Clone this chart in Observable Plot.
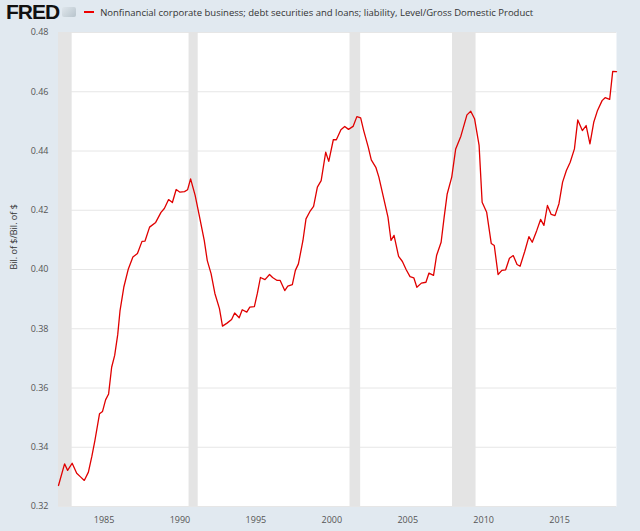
<!DOCTYPE html>
<html><head><meta charset="utf-8">
<script src="https://cdn.jsdelivr.net/npm/d3@7"></script>
<script src="https://cdn.jsdelivr.net/npm/@observablehq/plot@0.6"></script>
<style>
body{margin:0;background:#e1e9f0;font-family:"Open Sans",sans-serif;width:640px;height:531px;overflow:hidden}
#hdr{height:24px;display:flex;align-items:center;padding-left:6px}
#logo{font-family:"Liberation Sans",Arial,sans-serif;font-weight:bold;font-size:21px;letter-spacing:-1px;color:#111}
#icon{display:inline-block;width:14px;height:10px;margin-left:3px;background:linear-gradient(135deg,#dfe6ec,#b8c4cc);border-radius:2px}
#leg{display:flex;align-items:center;margin-left:8px;font-size:9.5px;color:#333}
#leg span.l{display:inline-block;width:10px;height:2px;background:#e00;margin-right:6px}
svg{display:block}
</style></head><body>
<div id="hdr"><span id="logo">FRED</span><span id="icon"></span><div id="leg"><span class="l"></span>Nonfinancial corporate business; debt securities and loans; liability, Level/Gross Domestic Product</div></div>
<div id="chart"></div>
<script>
const years = [1982.0,1982.4,1982.6,1982.9,1983.2,1983.45,1983.7,1983.97,1984.2,1984.4,1984.7,1984.9,1985.1,1985.3,1985.5,1985.7,1985.9,1986.05,1986.3,1986.6,1986.9,1987.2,1987.5,1987.7,1988.0,1988.4,1988.75,1988.97,1989.25,1989.5,1989.75,1990.0,1990.3,1990.5,1990.7,1991.0,1991.25,1991.6,1991.8,1992.05,1992.3,1992.6,1992.8,1993.1,1993.4,1993.6,1993.9,1994.1,1994.4,1994.6,1994.9,1995.1,1995.3,1995.6,1995.9,1996.1,1996.4,1996.6,1996.9,1997.1,1997.4,1997.6,1997.8,1998.1,1998.3,1998.55,1998.8,1999.05,1999.3,1999.6,1999.8,2000.1,2000.3,2000.6,2000.85,2001.1,2001.4,2001.65,2001.9,2002.1,2002.4,2002.6,2002.9,2003.1,2003.4,2003.7,2003.9,2004.1,2004.4,2004.65,2004.9,2005.15,2005.4,2005.6,2005.9,2006.2,2006.4,2006.7,2006.9,2007.2,2007.4,2007.6,2007.9,2008.16,2008.5,2008.9,2009.15,2009.4,2009.7,2009.9,2010.2,2010.5,2010.7,2010.95,2011.2,2011.45,2011.7,2011.95,2012.2,2012.4,2012.7,2012.98,2013.2,2013.5,2013.75,2013.97,2014.2,2014.45,2014.7,2014.96,2015.2,2015.45,2015.7,2015.98,2016.2,2016.5,2016.75,2017.0,2017.25,2017.5,2017.8,2018.0,2018.3,2018.5,2018.75];
const values = [0.3271,0.3344,0.3322,0.3346,0.3312,0.3300,0.3288,0.3316,0.3370,0.3423,0.3513,0.3521,0.3560,0.3580,0.3670,0.3710,0.3780,0.3860,0.3940,0.4002,0.4042,0.4054,0.4095,0.4096,0.4143,0.4159,0.4193,0.4206,0.4236,0.4226,0.4270,0.4261,0.4263,0.4269,0.4306,0.4250,0.4188,0.4098,0.4030,0.3986,0.3919,0.3868,0.3809,0.3819,0.3831,0.3853,0.3837,0.3864,0.3856,0.3873,0.3875,0.3920,0.3973,0.3966,0.3983,0.3973,0.3963,0.3963,0.3929,0.3944,0.3949,0.3997,0.4019,0.4098,0.4171,0.4195,0.4213,0.4278,0.4300,0.4396,0.4365,0.4438,0.4438,0.4472,0.4483,0.4473,0.4483,0.4516,0.4512,0.4469,0.4413,0.4370,0.4345,0.4312,0.4244,0.4177,0.4098,0.4115,0.4044,0.4027,0.3999,0.3976,0.3972,0.3940,0.3954,0.3957,0.3988,0.3980,0.4047,0.4092,0.4177,0.4255,0.4312,0.4407,0.4450,0.4522,0.4534,0.4509,0.4419,0.4227,0.4193,0.4088,0.4081,0.3983,0.3997,0.3999,0.4038,0.4047,0.4017,0.4011,0.4060,0.4111,0.4092,0.4132,0.4169,0.4149,0.4216,0.4186,0.4182,0.4222,0.4295,0.4334,0.4362,0.4407,0.4505,0.4469,0.4486,0.4424,0.4497,0.4537,0.4570,0.4580,0.4574,0.4669,0.4668];
const recStart = [1981.6,1990.6,2001.2,2007.95];
const recEnd   = [1982.9,1991.2,2001.9,2009.5];
const yTicks = [0.32,0.34,0.36,0.38,0.40,0.42,0.44,0.46,0.48];
const xTickYears = [1985,1990,1995,2000,2005,2010,2015];

const toDate = y => { const yr = Math.floor(y); const s = new Date(yr,0,1), e = new Date(yr+1,0,1); return new Date(+s + (y-yr)*(e-s)); };
const data = years.map((y,i)=>({date:toDate(y), value:values[i]}));
const rec = recStart.map((s,i)=>({x1:toDate(Math.max(s,1982.0)), x2:toDate(recEnd[i])}));

const plot = Plot.plot({
  width:640, height:507,
  marginTop:8, marginBottom:25, marginLeft:58, marginRight:24,
  style:{fontFamily:"Open Sans, sans-serif", fontSize:"9px", color:"#555", background:"transparent"},
  x:{type:"time", domain:[toDate(1982.0),toDate(2018.75)], ticks:xTickYears.map(y=>new Date(y,0,1)), tickFormat:d3.timeFormat("%Y"), tickSize:0, tickPadding:10, label:null},
  y:{domain:[0.32,0.48], ticks:yTicks, tickFormat:d3.format(".2f"), tickSize:0, tickPadding:10, label:null},
  marks:[
    Plot.frame({fill:"white", stroke:null}),
    Plot.gridY(yTicks, {stroke:"#e6e6e6", strokeOpacity:1}),
    Plot.rectX(rec, {x1:"x1", x2:"x2", fill:"#e4e4e4"}),
    Plot.lineY(data, {x:"date", y:"value", stroke:"#e00000", strokeWidth:1.3}),
    Plot.text(["Bil. of $/Bil. of $"], {frameAnchor:"left", dx:-44, rotate:-90, fill:"#333", fontSize:9})
  ]
});
document.getElementById("chart").appendChild(plot);
</script></body></html>
